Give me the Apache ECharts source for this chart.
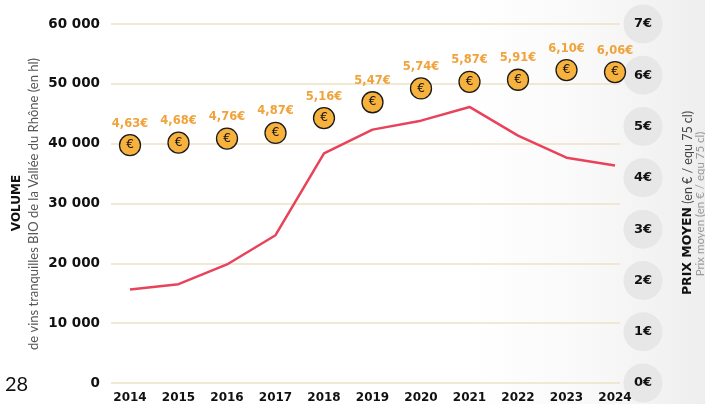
<!DOCTYPE html>
<html>
<head>
<meta charset="utf-8">
<script src="https://cdn.jsdelivr.net/npm/echarts@6/dist/echarts.min.js"></script>
<style>
html,body{margin:0;padding:0;background:#fff;}
#c{width:705px;height:404px;}
</style>
</head>
<body>
<div id="c"></div>
<script>
const years = ['2014','2015','2016','2017','2018','2019','2020','2021','2022','2023','2024'];
const volumes = [15500,16400,19700,24600,38300,42300,43800,46100,41300,37600,36300];
const prices = [4.63,4.68,4.76,4.87,5.16,5.47,5.74,5.87,5.91,6.10,6.06];
const volumeTitle = 'VOLUME';
const volumeSubtitle = 'de vins tranquilles BIO de la Vallée du Rhône (en hl)';
const priceTitle = 'PRIX MOYEN';
const priceUnit = '(en € / equ 75 cl)';
const priceSubtitle = 'Prix moyen (en € / equ 75 cl)';
const pageNumber = '28';

const chart = echarts.init(document.getElementById('c'));
const GRID_TOP = 24, GRID_BOTTOM = 21;
const numFont = 'DejaVu Sans';
const fmtThousands = v => String(v).replace(/\B(?=(\d{3})+(?!\d))/g, ' ');

chart.setOption({
  animation: false,
  backgroundColor: '#fff',
  graphic: [
    {type:'rect', z:-10, silent:true, shape:{x:470,y:0,width:235,height:404},
     style:{fill:new echarts.graphic.LinearGradient(0,0,1,0,[{offset:0,color:'rgba(238,238,238,0)'},{offset:0.5,color:'rgba(238,238,238,0.35)'},{offset:1,color:'#eeeeee'}])}},
    {type:'text', x:17, y:203, rotation:Math.PI/2,
     style:{text:volumeTitle, font:'bold 12px "DejaVu Sans"', fill:'#111', align:'center', verticalAlign:'middle'}},
    {type:'text', x:34, y:204, rotation:Math.PI/2,
     style:{text:volumeSubtitle, font:'13px Lato', fill:'#555', align:'center', verticalAlign:'middle'}},
    {type:'text', x:688, y:203, rotation:Math.PI/2,
     style:{text:'{b|'+priceTitle+'} {n|'+priceUnit+'}', align:'center', verticalAlign:'middle',
       rich:{b:{fontFamily:'DejaVu Sans', fontWeight:'bold', fontSize:12.5, fill:'#111'},
             n:{fontFamily:'Lato', fontSize:12.5, fill:'#444'}}}},
    {type:'text', x:700, y:204, rotation:Math.PI/2,
     style:{text:priceSubtitle, font:'11.5px Lato', fill:'#999', align:'center', verticalAlign:'middle'}},
    {type:'text', x:5, y:385, style:{text:pageNumber, font:'20px Lato', fill:'#111', align:'left', verticalAlign:'middle'}}
  ],
  grid: [
    {left:111, right:85, top:GRID_TOP, bottom:GRID_BOTTOM},
    {left:130, right:90, top:GRID_TOP, bottom:GRID_BOTTOM}
  ],
  xAxis: [
    {gridIndex:0, type:'category', data:years, show:false},
    {gridIndex:1, type:'category', data:years, boundaryGap:false,
     axisLine:{show:false}, axisTick:{show:false},
     axisLabel:{margin:10, fontFamily:numFont, fontWeight:'bold', fontSize:12, color:'#111'}}
  ],
  yAxis: [
    {gridIndex:0, type:'value', position:'left', min:0, max:60000, interval:10000,
     axisLine:{show:false}, axisTick:{show:false},
     splitLine:{lineStyle:{color:'#ede2c6', width:1.6}},
     axisLabel:{margin:11, fontFamily:numFont, fontWeight:'bold', fontSize:13.5, color:'#111', formatter:fmtThousands}},
    {gridIndex:0, type:'value', position:'right', min:0, max:7, interval:1,
     axisLine:{show:false}, axisTick:{show:false}, splitLine:{show:false},
     axisLabel:{margin:23, align:'center', verticalAlign:'middle', width:39, height:39, lineHeight:39,
       borderRadius:19.5, backgroundColor:'#e7e7e7',
       fontFamily:numFont, fontWeight:'bold', fontSize:13, color:'#111', formatter:v => v + '€'}},
    {gridIndex:1, type:'value', min:0, max:60000, show:false, splitLine:{show:false}},
    {gridIndex:1, type:'value', min:0, max:7, show:false, splitLine:{show:false}}
  ],
  series: [
    {type:'line', xAxisIndex:1, yAxisIndex:2, data:volumes, symbol:'none',
     lineStyle:{color:'#e8435a', width:2.5}, z:3},
    {type:'scatter', xAxisIndex:1, yAxisIndex:3, data:prices, symbol:'circle', symbolSize:21,
     itemStyle:{color:'#f6b23c', borderColor:'#1a1a1a', borderWidth:1.3, opacity:1},
     label:{show:true, position:'inside', formatter:'€', fontFamily:'DejaVu Sans', fontSize:12, color:'#111'}, z:5},
    {type:'scatter', xAxisIndex:1, yAxisIndex:3, data:prices, symbol:'circle', symbolSize:21,
     itemStyle:{color:'rgba(0,0,0,0)', opacity:1}, silent:true,
     label:{show:true, position:'top', distance:5, fontFamily:numFont, fontWeight:'bold', fontSize:11.5, color:'#f0a33a',
       formatter:p => p.value.toFixed(2).replace('.', ',') + '€'}, z:6}
  ]
});
</script>
</body>
</html>
